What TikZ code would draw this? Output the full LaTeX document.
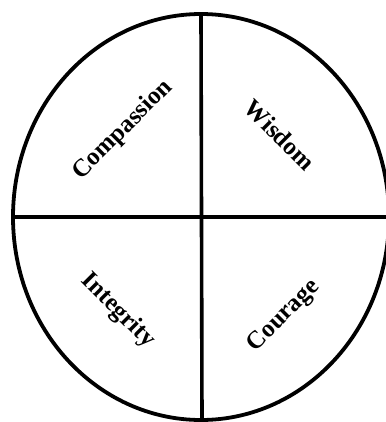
\documentclass[tikz,border=0pt]{standalone}
\usepackage{fontspec}
\setmainfont{Liberation Serif}
\usepackage{tikz}
\usetikzlibrary{calc}
\tikzset{virtue/.style={font=\fontsize{25}{27}\selectfont\bfseries,inner sep=0pt}}

\begin{document}
\begin{tikzpicture}[x=1bp,y=-1bp]
\useasboundingbox (0,0) rectangle (386,422);
\clip (0,0) rectangle (386,422);
\coordinate (hub) at (201,217);
\draw[line width=3.8bp] (hub) ellipse [x radius=188,y radius=203];
\draw[line width=3.6bp] ($(hub)+(0,-203)$) -- ($(hub)+(1,203)$);
\draw[line width=3.6bp] ($(hub)+(-188,0)$) -- ($(hub)+(190,0)$);
\node[virtue,rotate=45] (compassion) at (123,130) {Compassion};
\node[virtue,rotate=-45] (wisdom) at (280,135) {Wisdom};
\node[virtue,rotate=-45] (integrity) at (118,311) {Integrity};
\node[virtue,rotate=45] (courage) at (284,316) {Courage};
\end{tikzpicture}
\end{document}
